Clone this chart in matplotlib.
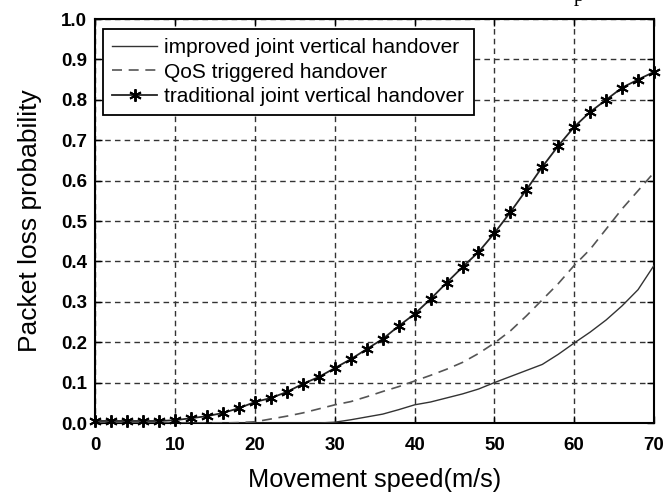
import matplotlib
matplotlib.use("Agg")
import matplotlib.pyplot as plt

speed = list(range(0, 72, 2))
traditional = [0.005, 0.005, 0.005, 0.005, 0.005, 0.007, 0.012, 0.017, 0.025, 0.037,
               0.052, 0.062, 0.077, 0.097, 0.114, 0.136, 0.158, 0.183, 0.208, 0.24,
               0.27, 0.307, 0.347, 0.386, 0.423, 0.47, 0.522, 0.577, 0.634, 0.686,
               0.733, 0.77, 0.80, 0.83, 0.85, 0.869]
qos = [0.0, 0.0, 0.0, 0.0, 0.0, 0.0, 0.0, 0.0, 0.0, 0.001,
       0.003, 0.01, 0.017, 0.025, 0.035, 0.045, 0.053, 0.065, 0.078, 0.09,
       0.104, 0.118, 0.133, 0.15, 0.172, 0.198, 0.228, 0.265, 0.305, 0.345,
       0.39, 0.43, 0.48, 0.53, 0.575, 0.62]
improved = [0.0, 0.0, 0.0, 0.0, 0.0, 0.0, 0.0, 0.0, 0.0, 0.0,
            0.0, 0.0, 0.0, 0.0, 0.0, 0.002, 0.008, 0.015, 0.022, 0.033,
            0.045, 0.052, 0.062, 0.072, 0.084, 0.1, 0.115, 0.13, 0.145, 0.17,
            0.198, 0.225, 0.255, 0.29, 0.33, 0.39]

labels = ["improved joint vertical handover", "QoS triggered handover",
          "traditional joint vertical handover"]
xticks = [0, 10, 20, 30, 40, 50, 60, 70]
yticks = [0.0, 0.1, 0.2, 0.3, 0.4, 0.5, 0.6, 0.7, 0.8, 0.9, 1.0]

plt.rcParams['font.family'] = ['Liberation Sans', 'DejaVu Sans']

fig = plt.figure(figsize=(6.66, 4.95), dpi=100)
ax = fig.add_axes([95.5/666, 1-423/495, (654-95.5)/666, (423-19)/495])

ax.plot(speed, improved, color='#333333', lw=1.0, label=labels[0], zorder=3)
ax.plot(speed, qos, color='#555555', lw=1.2, ls=(0, (6, 4)), label=labels[1], zorder=3)
ax.plot(speed, traditional, color='#222222', lw=1.3, marker=(6, 2, 0), ms=9, mew=1.4,
        mfc='black', mec='black', label=labels[2], zorder=4, clip_on=False)

ax.set_xlim(0, 70)
ax.set_ylim(0, 1.0)
ax.set_xticks(xticks)
ax.set_yticks(yticks)
ax.set_xticklabels([str(t) for t in xticks], fontsize=13.5, fontweight='bold')
ax.set_yticklabels([f"{t:.1f}" for t in yticks], fontsize=13.5, fontweight='bold')
ax.tick_params(direction='in', length=5, width=1, top=True, right=True, pad=6)
ax.tick_params(axis='x', pad=10)
ax.grid(True, color='#333333', ls=(0, (4, 3)), lw=1.0)
for s in ax.spines.values():
    s.set_linewidth(1.5)
    s.set_color('black')

ax.set_xlabel("Movement speed(m/s)", fontsize=18.3, labelpad=10)
ax.set_ylabel("Packet loss probability", fontsize=19, labelpad=14)

leg = ax.legend(loc='upper left', fontsize=15, frameon=True, fancybox=False,
                edgecolor='black', framealpha=1, borderpad=0.45, labelspacing=0.25,
                handlelength=2.15, handletextpad=0.35,
                bbox_to_anchor=(7.5/558.5, 1-10/404), borderaxespad=0)
leg.get_frame().set_linewidth(1.3)

fig.text(579/666, 1-1/495, 'p', va='baseline', ha='center', fontsize=15, family='Liberation Serif')

fig.savefig("out.png", dpi=100)
